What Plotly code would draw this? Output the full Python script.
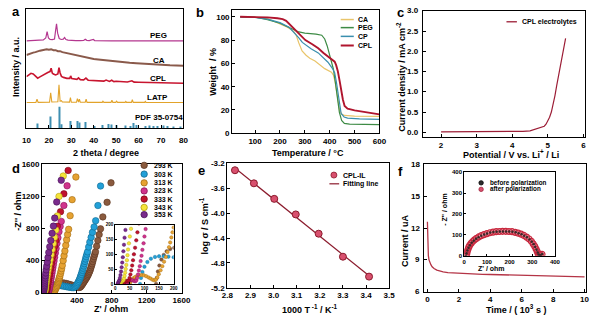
import numpy as np
import plotly.graph_objects as go

W, H = 600, 321
FONT = "Liberation Sans, Arial, sans-serif"

# ======================= DATA =======================
# (a) XRD, (2theta, stacked intensity)
xrd_peg = [(10,90),(12,90.2),(14,90.3),(16,90.5),(17.5,91),(18.6,93),(19.2,99.5),(19.8,93),(20.5,91.5),
           (21.5,91.3),(22.5,92),(23.0,101),(23.4,107.5),(23.9,98),(24.6,92.5),(25.5,91.5),(26.4,91.8),
           (27.0,93.5),(27.6,91.5),(28.5,90.8),(30,90.4),(32,90.3),(34,90.3),(35.5,90.5),(36.2,91.8),
           (36.9,90.6),(38,90.3),(39.2,90.6),(39.8,91.5),(40.4,90.4),(42,90.2),(45,90.1),(48,90.1),
           (52,90),(56,90),(60,90),(65,90),(70,90),(75,90),(80,90)]
xrd_ca = [(10,75.5),(11,76.5),(12,77),(13,78),(14,78.5),(15,79.5),(16,80),(17,80.5),(18,81),(19,81.5),
          (20,81),(21,81.5),(22,80.5),(23,80.5),(24,79.5),(25,79.5),(26,78.5),(27,78),(28,77),(29,76.5),
          (30,76),(32,75),(34,74),(36,73),(38,72.5),(40,71.5),(42,71),(44,70.5),(46,69.5),(48,69),
          (50,68.5),(53,68),(56,67.5),(59,67),(62,66.5),(65,66),(68,65.8),(71,65.5),(74,65),(77,64.8),(80,64.5)]
xrd_cpl = [(10,53.3),(11,55.5),(12,56.7),(13,56),(14,54),(15,51.7),(16,53),(17,54.5),(18,56),(19,57),
           (19.5,57.5),(20,58),(20.5,58.5),(21,62),(21.5,57),(22,56),(23,55),(24,56),(24.5,62.5),(25,57),
           (25.6,53.5),(26.5,52.5),(28,51.5),(29.3,51.5),(29.7,54),(30.2,51.3),(31,50.8),(32.5,50.5),
           (33.2,52),(34,50.2),(35.5,50),(36.5,51.8),(37.5,49.6),(39,49.3),(41,49),(43,48.8),(44.5,48.6),
           (45.5,49.8),(47,48.4),(48,49.6),(49,48.2),(50,48.5),(52,48),(55,47.8),(57,49),(58,47.6),
           (60,47.5),(63,47.3),(66,47.2),(70,47),(74,46.8),(77,46.6),(80,46.4)]
xrd_latp = [(10,26.7),(14.2,26.8),(14.7,30),(15.2,26.8),(20.3,27),(20.8,36.7),(21.3,27.2),(24.0,27.5),
            (24.5,45),(25.0,28),(25.6,28.5),(26,27.2),(29.2,27),(29.6,31.7),(30,27),(32.3,26.9),
            (32.7,30.7),(33.2,27.2),(33.6,30),(34,26.9),(36.2,26.9),(36.6,30),(37,26.8),(43.8,26.8),
            (44.1,28),(44.5,26.8),(47.7,26.8),(48.1,29),(48.5,26.8),(49.8,26.8),(50.2,28),(50.6,26.8),
            (54,26.8),(54.3,27.8),(54.6,26.8),(56.8,26.8),(57.2,29.5),(57.6,26.8),(62.7,26.8),(63,27.8),
            (63.3,26.8),(80,26.7)]
pdf_pos = [14.7,20.8,24.5,25.4,29.6,32.6,33.6,36.5,40.2,43.9,46.5,48.1,50.0,54.0,56.5,57.5,59.2,
           62.9,64.8,66.6,68.5,70.9,73.0,75.6,78.6]
pdf_int = [5,12.3,22.3,4.3,7.7,7.7,6,6.7,2.5,3.5,4.5,4,3.5,3,2.5,5.5,3.5,2.5,3,2.5,2.5,3,2.5,2,2]
xrd_names = ["PEG", "CA", "CPL", "LATP", "PDF 35-0754"]

# (b) TGA, (T / degC, weight %)
tga_ca = [(40,100),(100,99.8),(150,98.5),(200,94),(230,91),(255,87.5),(265,84.4),(276,77.5),(289,70.7),
          (305,67),(320,64.5),(341,62),(360,58.5),(380,55.5),(407,52.5),(415,50),(422,44),(428,35),
          (434,26),(440,20),(448,16.5),(460,15.3),(500,14.8),(550,14.5),(600,14.5)]
tga_peg = [(40,100),(100,99.6),(150,97.5),(200,94.5),(230,91.5),(255,89),(276,87),(300,86),(315,85.8),
           (345,85.2),(368,84.2),(380,81),(390,75),(400,66),(407,61),(415,55),(422,45),(430,30),
           (439,18),(448,11),(459,8.5),(480,7.8),(540,7.6),(600,7.5)]
tga_cp = [(40,100),(100,99.6),(150,98),(200,95),(237,91),(260,86),(276,82),(290,78),(302,76),(325,72.5),
          (354,69),(375,64.5),(393,61),(410,56),(420,52),(427,44),(433,34),(440,24),(446,17),(458,14),
          (472,13),(520,12.4),(600,12)]
tga_cpl = [(40,100),(100,100),(150,99.5),(190,98.8),(211,98),(225,96.5),(237,94),(250,91),(263,88.5),
           (280,85),(302,80),(330,76.5),(354,73),(375,69),(393,66),(410,63.5),(420,61.5),(426,58.5),
           (433,53),(440,45),(446,37),(453,29),(460,23.5),(472,21.2),(500,19.6),(537,18.5),(570,17),
           (600,16.2)]
tga_names = ["CA", "PEG", "CP", "CPL"]

# (c) LSV, (potential / V, current density / mA cm-2)
lsv_cpl = [(2.0,0.01),(2.5,0.01),(3.0,0.012),(3.5,0.015),(4.0,0.02),(4.3,0.025),(4.5,0.035),
           (4.6,0.06),(4.65,0.085),(4.7,0.1),(4.8,0.11),(4.9,0.15),(4.95,0.2),(5.0,0.27),(5.05,0.37),
           (5.1,0.5),(5.15,0.68),(5.2,0.9),(5.25,1.15),(5.3,1.4),(5.35,1.65),(5.4,1.88),(5.45,2.1),
           (5.5,2.32)]

# (d) Nyquist plots, (Z' / ohm, -Z'' / ohm)
eis_names = ["293 K", "303 K", "313 K", "323 K", "333 K", "343 K", "353 K"]
eis_293 = [(140,0),(142,20),(146,42),(151,62),(158,82),(166,98),(176,110),(188,118),(202,122),(218,123),
           (236,122),(256,119),(278,114),(300,108),(322,101),(344,93),(366,85),(386,77),(404,70),
           (420,65),(432,66),(442,74),(451,86),(460,100),(469,115),(478,130),(487,145),(496,160),
           (505,176),(514,192),(522,208),(530,226),(538,245),(546,265),(553,287),(560,310),(567,335),
           (574,360),(581,388),(589,420),(597,450),(605,480),(613,509),(626,580),(640,651),(655,725),
           (671,796),(697,945),(746,1127),(791,1370)]
eis_303 = [(85,0),(88,20),(93,40),(100,58),(110,74),(122,85),(136,91),(150,93),(166,93),(182,92),
           (200,90),(220,87),(240,83),(260,79),(280,75),(300,71),(320,67),(340,64),(356,62),(370,65),
           (382,75),(393,90),(402,106),(411,123),(420,142),(428,162),(436,183),(443,205),(450,228),
           (457,252),(464,278),(471,305),(478,333),(485,362),(492,390),(499,420),(506,450),(514,480),
           (522,509),(535,570),(548,630),(563,690),(578,752),(597,820),(615,897),(641,1087),(671,1330)]
eis_313 = [(50,2),(53,8),(57,14),(62,19),(68,23),(75,27),(82,29),(90,30),(98,29),(106,26),(114,22),
           (121,18),(128,14),(134,12),(139,14),(144,22),(149,33),(155,46),(161,60),(167,75),(173,91),
           (179,108),(184,124),(188,140),(192,157),(196,174),(200,190),(205,210),(212,240),(218,270),
           (224,300),(232,340),(242,400),(252,460),(262,520),(272,590),(282,660),(293,725),(305,790),
           (322,960),(345,1160),(388,1442)]
eis_323 = [(38,0),(41,5),(45,9),(50,12),(55,13),(60,12),(65,10),(69,9),(72,12),(75,20),(78,32),(81,45),
           (84,60),(87,77),(90,95),(93,115),(97,137),(100,160),(104,185),(108,212),(113,242),(118,275),
           (124,312),(130,352),(137,396),(144,443),(152,495),(161,552),(171,615),(182,685),(194,760),
           (207,825),(220,889),(250,1087),(287,1333)]
eis_333 = [(28,0),(31,5),(35,9),(39,10),(43,9),(46,12),(49,20),(52,32),(55,46),(58,62),(61,80),
           (64,100),(68,122),(72,147),(76,174),(81,204),(86,237),(92,273),(99,313),(106,357),(114,405),
           (123,457),(133,515),(144,580),(157,650),(175,828),(212,1010),(250,1233),(299,1524)]
eis_343 = [(18,0),(20,4),(22,8),(25,10),(28,12),(30,18),(32,27),(34,38),(36,50),(38,64),(40,80),
           (42,97),(44,116),(47,137),(50,160),(54,186),(58,214),(63,246),(69,282),(76,322),(84,367),
           (93,418),(103,475),(115,540),(128,612),(142,690),(157,780),(175,957),(194,1200),(243,1455)]
eis_353 = [(8,0),(10,4),(12,8),(14,12),(16,20),(18,30),(20,42),(22,56),(24,72),(26,90),(28,110),
           (30,132),(32,156),(35,182),(38,212),(42,246),(47,285),(53,330),(60,381),(68,438),(77,502),
           (88,573),(100,650),(115,740),(130,830),(145,930),(168,1131),(220,1402)]

# (e) Arrhenius plot
inv_T = [2.833, 2.915, 3.003, 3.096, 3.195, 3.300, 3.413]
log_sigma = [-3.31, -3.52, -3.77, -4.02, -4.33, -4.70, -5.02]
e_names = ["CPL-IL", "Fitting line"]

# (f) chronoamperometry (time / 10^3 s, current / uA) and EIS before/after
chrono = [(0.0,12.6),(0.005,12.2),(0.01,11.5),(0.02,10.8),(0.035,10.0),(0.06,9.4),(0.1,9.0),
          (0.15,8.75),(0.22,8.55),(0.3,8.35),(0.42,8.18),(0.6,8.03),(0.8,7.93),(1.0,7.86),(1.3,7.8),
          (1.7,7.76),(2.0,7.72),(2.5,7.69),(3.0,7.66),(3.5,7.64),(4.0,7.62),(4.5,7.6),(5.0,7.58),
          (5.5,7.57),(6.0,7.55),(6.5,7.54),(7.0,7.52),(7.5,7.5),(8.0,7.48),(8.5,7.46),(9.0,7.44),
          (9.5,7.42),(10.0,7.4)]
eis_before = [(8,0),(10,12),(14,25),(19,38),(25,50),(33,62),(42,72),(52,81),(63,89),(75,96),(88,102),
              (101,107),(115,111),(129,113.5),(143,115),(157,116),(171,116.5),(185,116.5),(199,116),
              (213,114.5),(227,112),(240,108),(253,103),(265,96),(277,88),(288,78),(298,67),(306,55),
              (313,42),(319,29),(324,16),(328,6),(332,2),(338,4),(344,8)]
eis_after = [(9,0),(11,10),(13,20),(16,30),(20,41),(24,50),(30,59),(37,68),(45,76),(54,83),(64,90),
             (75,96),(87,101),(100,106),(113,110),(127,113),(141,115),(155,116),(169,117),(183,117),
             (197,116),(211,115),(225,112),(238,108),(251,103),(263,97),(275,89),(286,80),(296,69),
             (304,57),(311,45),(317,32),(322,20),(326,9),(330,3),(336,3),(343,7)]
f_names = ["before polarization", "after polarization"]

# tick labels
ticks_a_x = [10, 20, 30, 40, 50, 60, 70, 80]
ticks_b_x = [100, 200, 300, 400, 500, 600]
ticks_b_y = [0, 20, 40, 60, 80, 100]
ticks_c_x = [2, 3, 4, 5, 6]
ticks_c_y = [0, 0.5, 1.0, 1.5, 2.0, 2.5, 3.0]
ticktext_c_y = ["0.0", "0.5", "1.0", "1.5", "2.0", "2.5", "3.0"]
ticks_d_x = [400, 800, 1200, 1600]
ticks_d_y = [0, 400, 800, 1200, 1600]
ticks_e_x = [2.8, 2.9, 3.0, 3.1, 3.2, 3.3, 3.4, 3.5]
ticks_e_y = [-5.2, -4.8, -4.4, -4.0, -3.6, -3.2]
ticktext_e_y = ["-5.2", "-4.8", "-4.4", "-4.0", "-3.6", "-3.2"]
ticks_f_x = [0, 2, 4, 6, 8, 10]
ticks_f_y = [6, 9, 12, 15, 18]
ticktext_f_y = ["6", "9", "12", "15", "18"]
ticks_din = [0, 50, 100, 150, 200]
ticks_fin = [0, 100, 200, 300, 400]

Y_RANGE_C = [-0.12, 3.0]
Y_RANGE_F = [6, 18]

# pixel boxes of the two right-hand panels (top, bottom)
BOX_C = (7, 137)
BOX_F = (165, 296)

# ======================= HELPERS =======================
def xy(pairs):
    return [p[0] for p in pairs], [p[1] for p in pairs]

def xdom(l, r):
    return [l / W, r / W]

def ydom(t, b):
    return [1 - b / H, 1 - t / H]

TICK = 8

def axis(dom, anchor, rng, tickvals=None, ticktext=None, size=TICK, labels=True, ticklen=3, fmt=None,
         standoff=None):
    a = dict(domain=dom, anchor=anchor, range=rng, showline=True, mirror=True, linecolor="black",
             linewidth=1.1, showgrid=False, zeroline=False, ticks="inside" if ticklen else "",
             ticklen=ticklen, tickwidth=1, tickcolor="black", showticklabels=labels,
             tickfont=dict(family=FONT, size=size, color="black", weight="bold"))
    if tickvals is not None:
        a["tickmode"] = "array"
        a["tickvals"] = tickvals
        if ticktext is not None:
            a["ticktext"] = ticktext
    if fmt:
        a["tickformat"] = fmt
    if standoff is not None:
        a["ticklabelstandoff"] = standoff
    return a

annotations = []
shapes = []

def text(x, y, s, size=9, angle=0, xanchor="center", color="black"):
    annotations.append(dict(x=x / W, y=1 - y / H, xref="paper", yref="paper", text=s, showarrow=False,
                            xanchor=xanchor, yanchor="middle", textangle=angle,
                            font=dict(family=FONT, size=size, color=color, weight="bold")))

def ytick_text(vals, labels, rng, box, x_right):
    top, bottom = box
    for v, s in zip(vals, labels):
        ypx = top + (rng[1] - v) / (rng[1] - rng[0]) * (bottom - top)
        text(x_right, ypx, s, size=TICK, xanchor="right")

def leg_line(x0, x1, y, color, width=1.5):
    shapes.append(dict(type="line", xref="paper", yref="paper", x0=x0 / W, x1=x1 / W,
                       y0=1 - y / H, y1=1 - y / H, line=dict(color=color, width=width)))

def leg_dot(x, y, color, r=3.2, edge=None):
    shapes.append(dict(type="circle", xref="paper", yref="paper", xsizemode="pixel", ysizemode="pixel",
                       xanchor=x / W, yanchor=1 - y / H, x0=-r, x1=r, y0=-r, y1=r,
                       fillcolor=color, line=dict(color=edge or color, width=0.8)))

fig = go.Figure()

# ======================= (a) =======================
col_a = ["#b4378f", "#8a5a4b", "#c8152f", "#e2a32a", "#3f8fb2"]
fig.add_trace(go.Bar(x=pdf_pos, y=pdf_int, width=0.45, marker=dict(color=col_a[4], line=dict(width=0)),
                     xaxis="x", yaxis="y"))
for pairs, c, w in [(xrd_peg, col_a[0], 1.2), (xrd_ca, col_a[1], 2.0), (xrd_cpl, col_a[2], 1.6),
                    (xrd_latp, col_a[3], 1.1)]:
    x, y = xy(pairs)
    fig.add_trace(go.Scatter(x=x, y=y, mode="lines", line=dict(color=c, width=w), xaxis="x", yaxis="y"))
for name, (px_, py_) in zip(xrd_names, [(156.7, 32.7), (156.7, 58.3), (156, 76.7), (155, 96.7), (156.7, 116.7)]):
    text(px_, py_, name, size=8)

# ======================= (b) =======================
col_b = ["#e9c56b", "#3d8b45", "#3a8fae", "#b0152e"]
for pairs, c, w in zip([tga_ca, tga_peg, tga_cp, tga_cpl], col_b, [1.2, 1.2, 1.2, 1.9]):
    x, y = xy(pairs)
    fig.add_trace(go.Scatter(x=x, y=y, mode="lines", line=dict(color=c, width=w), xaxis="x2", yaxis="y2"))
for name, c, yy in zip(tga_names, col_b, [16, 24.3, 33.3, 42.7]):
    leg_line(343.3, 356.7, yy, c, 1.5 if name != "CPL" else 2)
    text(359.3, yy, name, size=7, xanchor="left")

# ======================= (c) =======================
col_c = "#9c1d36"
x, y = xy(lsv_cpl)
fig.add_trace(go.Scatter(x=x, y=y, mode="lines", line=dict(color=col_c, width=1.2), xaxis="x3", yaxis="y3"))
leg_line(513.3, 524, 18.3, col_c, 1.3)
text(526.7, 18.3, "CPL electrolytes", size=7, xanchor="left")
ytick_text(ticks_c_y, ticktext_c_y, Y_RANGE_C, BOX_C, 426)

# ======================= (d) =======================
col_d = ["#8a5a3e", "#22a0d8", "#e6a232", "#d0338c", "#c0122e", "#f6e43a", "#7a2b8c"]
edge_d = ["#5a3520", "#10688f", "#a06a10", "#8a1458", "#7a0818", "#b0a010", "#4a1058"]
all_d = [eis_293, eis_303, eis_313, eis_323, eis_333, eis_343, eis_353]
for pairs, c, e in zip(all_d, col_d, edge_d):
    x, y = xy(pairs)
    fig.add_trace(go.Scatter(x=x, y=y, mode="markers", xaxis="x4", yaxis="y4",
                             marker=dict(size=6.5, color=c, line=dict(color=e, width=0.6))))
    fig.add_trace(go.Scatter(x=x, y=y, mode="markers", xaxis="x7", yaxis="y7",
                             marker=dict(size=3.5, color=c, line=dict(color=e, width=0.4))))
for name, c, e, yy in zip(eis_names, col_d, edge_d, [166, 175, 184, 192.3, 200.7, 209.3, 216.7]):
    leg_dot(141.7, yy, c, r=3.2, edge=e)
    text(150, yy, name, size=7, xanchor="left")

# ======================= (e) =======================
slope, icpt = np.polyfit(inv_T, log_sigma, 1)
fit_x = [min(inv_T), max(inv_T)]
fit_y = [slope * v + icpt for v in fit_x]
fig.add_trace(go.Scatter(x=fit_x, y=fit_y, mode="lines", line=dict(color="#8b1a2c", width=1.2),
                         xaxis="x5", yaxis="y5"))
fig.add_trace(go.Scatter(x=inv_T, y=log_sigma, mode="markers", xaxis="x5", yaxis="y5",
                         marker=dict(size=7, color="#d8506e", line=dict(color="#8b1a2c", width=1))))
leg_dot(336.3, 176, "#d8506e", r=3, edge="#8b1a2c")
text(344, 176, e_names[0], size=7, xanchor="left")
leg_line(331.7, 341.7, 185, "#8b1a2c", 1.2)
text(344, 185, e_names[1], size=7, xanchor="left")

# ======================= (f) =======================
x, y = xy(chrono)
fig.add_trace(go.Scatter(x=x, y=y, mode="lines", line=dict(color="#b43446", width=1.3),
                         xaxis="x6", yaxis="y6"))
x, y = xy(eis_after)
fig.add_trace(go.Scatter(x=x, y=y, mode="markers", xaxis="x8", yaxis="y8",
                         marker=dict(size=6, color="rgba(220,90,110,0.35)", line=dict(color="#c8283e", width=1.2))))
x, y = xy(eis_before)
fig.add_trace(go.Scatter(x=x, y=y, mode="markers", xaxis="x8", yaxis="y8",
                         marker=dict(size=2.5, color="#3a2a2a")))
leg_dot(487.3, 184, "#2b2b2b", r=2.2, edge="#000000")
text(494.3, 184, f_names[0], size=6.3, xanchor="left")
leg_dot(487.3, 190.7, "#d8506e", r=2.2, edge="#a02038")
text(494.3, 190.7, f_names[1], size=6.3, xanchor="left")
ytick_text(ticks_f_y, ticktext_f_y, Y_RANGE_F, BOX_F, 427)

# ======================= axes titles and panel letters =======================
text(103, 153, "2 theta / degree", size=9)
text(10, 65, "Intensity / a.u.", size=9, angle=-90)
text(310, 153, "Temperature / \u00b0C", size=9)
text(212, 70, "Weight  / %", size=9, angle=-90)
text(518, 154, "Potential / V vs. Li<sup>+</sup> / Li", size=9)
text(405, 75, "Current density / mA cm<sup>-2</sup>", size=9, angle=-90)
text(108, 314, "Z' / ohm", size=9)
text(12, 213, "-Z'' / ohm", size=9, angle=-90)
text(312, 314, "1000 T<sup> -1</sup> / K<sup>-1</sup>", size=9)
text(203, 228, "log \u03c3 / S cm<sup>-1</sup>", size=9, angle=-90)
text(523, 314, "Time / ( 10<sup>3</sup> s )", size=9)
text(409, 243, "Current / uA", size=9, angle=-90)
text(498.3, 272.5, "Z' / ohm", size=7)
text(449, 211, "- Z'' / ohm", size=7, angle=-90)
for s, (lx, ly) in zip("abcdef", [(10, 8), (199, 9), (405, 9), (10, 169), (200, 171), (405, 172)]):
    text(lx, ly, s, size=13)

# ======================= layout =======================
layout = dict(
    width=W, height=H, margin=dict(l=0, r=0, t=0, b=0), paper_bgcolor="white", plot_bgcolor="white",
    showlegend=False, barmode="overlay", annotations=annotations, shapes=shapes,
    xaxis=axis(xdom(21, 182), "y", [10, 80], tickvals=ticks_a_x, standoff=4),
    yaxis=axis(ydom(5, 128), "x", [0, 123], labels=False, ticklen=0),
    xaxis2=axis(xdom(232, 383), "y2", [8, 600], tickvals=ticks_b_x),
    yaxis2=axis(ydom(6, 133), "x2", [0, 106], tickvals=ticks_b_y),
    xaxis3=axis(xdom(428, 594), "y3", [1.5, 6.05], tickvals=ticks_c_x),
    yaxis3=axis(ydom(*BOX_C), "x3", Y_RANGE_C, tickvals=ticks_c_y, labels=False),
    xaxis4=axis(xdom(37, 180), "y4", [0, 1600], tickvals=ticks_d_x),
    yaxis4=axis(ydom(165, 297), "x4", [0, 1600], tickvals=ticks_d_y),
    xaxis5=axis(xdom(227, 393), "y5", [2.8, 3.5], tickvals=ticks_e_x, fmt=".1f"),
    yaxis5=axis(ydom(164, 292), "x5", [-5.2, -3.2], tickvals=ticks_e_y, ticktext=ticktext_e_y),
    xaxis6=axis(xdom(429, 595), "y6", [-0.2, 10.1], tickvals=ticks_f_x),
    yaxis6=axis(ydom(*BOX_F), "x6", Y_RANGE_F, tickvals=ticks_f_y, labels=False),
    xaxis7=axis(xdom(112, 172), "y7", [0, 200], tickvals=ticks_din, size=4.5, ticklen=2),
    yaxis7=axis(ydom(227, 288), "x7", [0, 200], tickvals=ticks_din, size=4.5, ticklen=2),
    xaxis8=axis(xdom(470, 563), "y8", [0, 400], tickvals=ticks_fin, size=6, ticklen=2),
    yaxis8=axis(ydom(173, 259), "x8", [0, 400], tickvals=ticks_fin, size=6, ticklen=2),
)
fig.update_layout(**layout)
fig.write_html("out.html")
